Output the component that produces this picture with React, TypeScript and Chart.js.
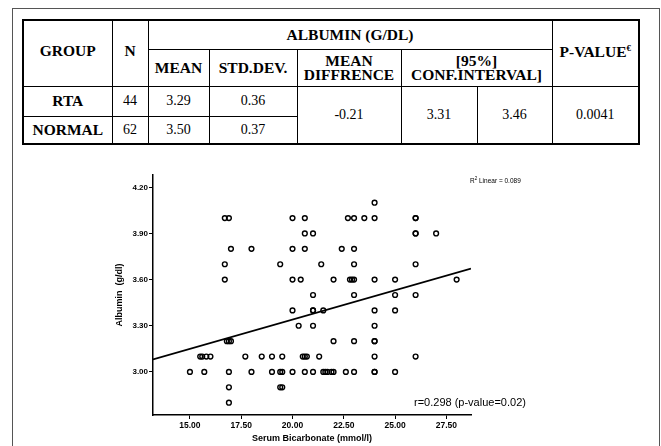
import React, { useEffect, useRef } from "react";
import { Chart, registerables } from "chart.js";

Chart.register(...registerables);

// ---------- Scatter data (serum bicarbonate vs albumin) ----------
const bicarbonate = [
  24.0,
  16.7, 16.9, 20.0, 20.6, 22.7, 23.0, 23.5, 24.0, 26.0, 26.0,
  20.6, 21.0, 26.0, 26.0, 27.0,
  17.0, 18.0, 20.0, 20.6, 22.4, 23.0,
  16.7, 19.4, 21.4, 23.0, 26.0,
  16.7, 20.0, 20.4, 22.0, 22.8, 22.9, 23.0, 24.0, 25.0, 28.0,
  21.0, 23.0, 25.0, 26.0,
  20.0, 21.0, 21.0, 21.5, 24.0, 25.0,
  20.3, 21.0, 24.0,
  16.8, 16.9, 17.0, 22.0, 23.0, 24.0, 24.0,
  15.5, 15.6, 15.8, 16.0, 17.7, 18.5, 19.0, 19.5, 20.5, 20.6, 20.7, 21.3, 24.0, 26.0,
  15.0, 15.7, 16.9, 18.0, 19.0, 19.4, 19.5, 20.0, 20.6, 21.0, 21.5, 21.6, 21.7, 21.9, 22.0, 22.6, 23.0, 24.0, 24.0, 25.0,
  16.9, 19.4, 19.5,
  16.9,
];
const albumin = [
  4.1,
  4.0, 4.0, 4.0, 4.0, 4.0, 4.0, 4.0, 4.0, 4.0, 4.0,
  3.9, 3.9, 3.9, 3.9, 3.9,
  3.8, 3.8, 3.8, 3.8, 3.8, 3.8,
  3.7, 3.7, 3.7, 3.7, 3.7,
  3.6, 3.6, 3.6, 3.6, 3.6, 3.6, 3.6, 3.6, 3.6, 3.6,
  3.5, 3.5, 3.5, 3.5,
  3.4, 3.4, 3.4, 3.4, 3.4, 3.4,
  3.3, 3.3, 3.3,
  3.2, 3.2, 3.2, 3.2, 3.2, 3.2, 3.2,
  3.1, 3.1, 3.1, 3.1, 3.1, 3.1, 3.1, 3.1, 3.1, 3.1, 3.1, 3.1, 3.1, 3.1,
  3.0, 3.0, 3.0, 3.0, 3.0, 3.0, 3.0, 3.0, 3.0, 3.0, 3.0, 3.0, 3.0, 3.0, 3.0, 3.0, 3.0, 3.0, 3.0, 3.0,
  2.9, 2.9, 2.9,
  2.8,
];

const xTicks = [15.0, 17.5, 20.0, 22.5, 25.0, 27.5];
const yTicks = [3.0, 3.3, 3.6, 3.9, 4.2];
const xRange = [13.2, 28.7];
const yRange = [2.72, 4.28];

// linear fit line
const fitIntercept = 2.578;
const fitSlope = 0.0381;
const r2Value = "0.089";
const corrText = "r=0.298 (p-value=0.02)";

const xTitle = "Serum Bicarbonate (mmol/l)";
const yTitle = "Albumin  (g/dl)";

// ---------- Table data ----------
const groups = ["RTA", "NORMAL"];
const groupN = ["44", "62"];
const groupMean = ["3.29", "3.50"];
const groupStd = ["0.36", "0.37"];
const meanDifference = "-0.21";
const confInterval = ["3.31", "3.46"];
const pValue = "0.0041";

const sans = '"Liberation Sans", Arial, sans-serif';
const serif = '"Liberation Serif", "Times New Roman", serif';

const annotationPlugin = {
  id: "annotations",
  afterDraw(chart: any) {
    const { ctx, chartArea } = chart;
    ctx.save();
    ctx.fillStyle = "#000";
    ctx.textBaseline = "middle";
    ctx.textAlign = "left";
    // R² Linear label
    let x = chartArea.right - 1;
    const y = chartArea.top + 6;
    ctx.font = `6.5px ${sans}`;
    ctx.fillText("R", x, y);
    x += ctx.measureText("R").width;
    ctx.font = `4.5px ${sans}`;
    ctx.fillText("2", x, y - 2);
    x += ctx.measureText("2").width;
    ctx.font = `6.5px ${sans}`;
    ctx.fillText(" Linear = " + r2Value, x, y);
    // correlation text
    ctx.font = `11px ${sans}`;
    ctx.fillText(corrText, chartArea.right - 57, chartArea.bottom - 12);
    ctx.restore();
  },
};

function ScatterChart() {
  const ref = useRef<HTMLCanvasElement | null>(null);
  useEffect(() => {
    if (!ref.current) return;
    const points = bicarbonate.map((b, i) => ({ x: b, y: albumin[i] }));
    const fit = (v: number) => fitIntercept + fitSlope * v;
    const chart = new Chart(ref.current, {
      type: "scatter",
      data: {
        datasets: [
          {
            label: "Observed",
            data: points,
            pointStyle: "circle",
            pointRadius: 2.4,
            pointBorderWidth: 1.4,
            pointBorderColor: "#000",
            pointBackgroundColor: "rgba(255,255,255,0)",
            showLine: false,
            order: 1,
          },
          {
            label: "Linear",
            data: [
              { x: xRange[0], y: fit(xRange[0]) },
              { x: xRange[1], y: fit(xRange[1]) },
            ],
            showLine: true,
            borderColor: "#000",
            borderWidth: 1.8,
            pointRadius: 0,
            order: 2,
          },
        ],
      },
      options: {
        responsive: false,
        animation: false,
        devicePixelRatio: 1,
        layout: { padding: { left: 114, right: 190, top: 25, bottom: 0 } },
        plugins: { legend: { display: false }, tooltip: { enabled: false } },
        scales: {
          x: {
            type: "linear",
            min: xRange[0],
            max: xRange[1],
            afterBuildTicks: (s: any) => {
              s.ticks = xTicks.map((v) => ({ value: v }));
            },
            afterFit: (s: any) => {
              s.height = 31;
            },
            grid: { drawOnChartArea: false, drawTicks: true, tickLength: 4, color: "#000", lineWidth: 1 },
            border: { display: true, color: "#000", width: 1.5 },
            ticks: {
              color: "#000",
              font: { family: sans, size: 8.5, weight: "bold" },
              padding: 2,
              maxRotation: 0,
              autoSkip: false,
              callback: (v: any) => Number(v).toFixed(2),
            },
            title: {
              display: true,
              text: xTitle,
              color: "#000",
              font: { family: sans, size: 9, weight: "bold" },
              padding: { top: 0, bottom: 2 },
            },
          },
          y: {
            type: "linear",
            min: yRange[0],
            max: yRange[1],
            afterBuildTicks: (s: any) => {
              s.ticks = yTicks.map((v) => ({ value: v }));
            },
            afterFit: (s: any) => {
              s.width = 39;
            },
            grid: { drawOnChartArea: false, drawTicks: true, tickLength: 4, color: "#000", lineWidth: 1 },
            border: { display: true, color: "#000", width: 1.5 },
            ticks: {
              color: "#000",
              font: { family: sans, size: 8, weight: "bold" },
              padding: 1,
              autoSkip: false,
              callback: (v: any) => Number(v).toFixed(2),
            },
            title: {
              display: true,
              text: yTitle,
              color: "#000",
              font: { family: sans, size: 9, weight: "bold" },
              padding: 0,
            },
          },
        },
      },
      plugins: [annotationPlugin],
    } as any);
    return () => chart.destroy();
  }, []);
  return (
    <canvas
      ref={ref}
      width={661}
      height={296}
      style={{ position: "absolute", left: 0, top: 150, width: 661, height: 296 }}
    />
  );
}

const cell: React.CSSProperties = {
  border: "1.5px solid #000",
  textAlign: "center",
  verticalAlign: "middle",
  padding: 0,
  fontSize: 14,
  lineHeight: "14px",
};
const head: React.CSSProperties = { ...cell, fontWeight: "bold", fontSize: 15.5, lineHeight: "13.5px" };

function DataTable() {
  const colWidths = [89, 36, 61, 88, 104, 76, 75, 87];
  return (
    <table
      style={{
        position: "absolute",
        left: 22,
        top: 19,
        width: 616,
        borderCollapse: "collapse",
        tableLayout: "fixed",
        border: "2px solid #000",
        fontFamily: serif,
        color: "#000",
      }}
    >
      <colgroup>
        {colWidths.map((w, i) => (
          <col key={i} style={{ width: w }} />
        ))}
      </colgroup>
      <tbody>
        <tr style={{ height: 29 }}>
          <td rowSpan={2} style={{ ...head, paddingBottom: 6 }}>GROUP</td>
          <td rowSpan={2} style={{ ...head, paddingBottom: 6 }}>N</td>
          <td colSpan={5} style={head}>ALBUMIN (G/DL)</td>
          <td rowSpan={2} style={{ ...head, paddingBottom: 6 }}>
            P-VALUE<sup style={{ fontSize: 9, verticalAlign: "6px" }}>€</sup>
          </td>
        </tr>
        <tr style={{ height: 37 }}>
          <td style={head}>MEAN</td>
          <td style={head}>STD.DEV.</td>
          <td style={head}>
            MEAN
            <br />
            DIFFRENCE
          </td>
          <td colSpan={2} style={head}>
            [95%]
            <br />
            CONF.INTERVAL]
          </td>
        </tr>
        <tr style={{ height: 30 }}>
          <td style={head}>{groups[0]}</td>
          <td style={cell}>{groupN[0]}</td>
          <td style={cell}>{groupMean[0]}</td>
          <td style={cell}>{groupStd[0]}</td>
          <td rowSpan={2} style={cell}>{meanDifference}</td>
          <td rowSpan={2} style={cell}>{confInterval[0]}</td>
          <td rowSpan={2} style={cell}>{confInterval[1]}</td>
          <td rowSpan={2} style={cell}>{pValue}</td>
        </tr>
        <tr style={{ height: 28 }}>
          <td style={head}>{groups[1]}</td>
          <td style={cell}>{groupN[1]}</td>
          <td style={cell}>{groupMean[1]}</td>
          <td style={cell}>{groupStd[1]}</td>
        </tr>
      </tbody>
    </table>
  );
}

export default function App() {
  return (
    <div
      style={{
        position: "absolute",
        left: 0,
        top: 0,
        width: 661,
        height: 446,
        overflow: "hidden",
        background: "#fff",
      }}
    >
      <div
        style={{
          position: "absolute",
          left: 12,
          top: 8,
          width: 646,
          height: 460,
          border: "1px solid #555",
        }}
      />
      <DataTable />
      <ScatterChart />
    </div>
  );
}
